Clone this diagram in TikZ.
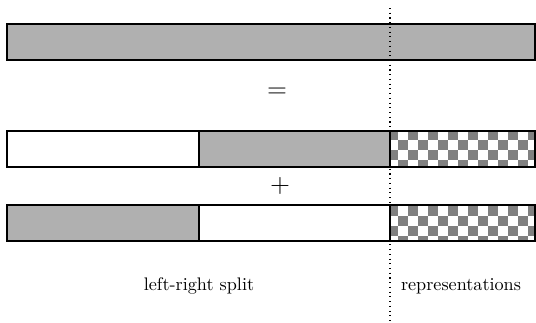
\documentclass[tikz,border=0pt]{standalone}
\begin{document}
\begin{tikzpicture}[x=0.55pt,y=-0.55pt,
	bar/.style={draw=black,line width=0.6pt},
	full/.style={bar,fill=black!31},
	empty/.style={bar,fill=white},
	checker/.style={fill=black!50},
	sign/.style={font=\Large}]
		\useasboundingbox (0,0) rectangle (536,322);
		% whole sequence
		\draw[full] (7,24) rectangle (535,60);
		\node[sign] (eq) at (277,93) {$=$};
		% first half: right part filled
		\draw[empty] (7,131) rectangle (199,167);
		\draw[full] (199,131) rectangle (390,167);
		\begin{scope}
			\clip (390,131) rectangle (535,167);
			\foreach \i in {0,...,15} \foreach \j in {0,...,4} {\ifodd\numexpr\i+\j\relax\else \fill[checker] (387.7+10*\i,130+10*\j) rectangle ++(10,10);\fi}
		\end{scope}
		\draw[bar] (390,131) rectangle (535,167);
		\node[sign] (plus) at (280,186) {$+$};
		% second half: left part filled
		\draw[full] (7,205) rectangle (199,241);
		\draw[empty] (199,205) rectangle (390,241);
		\begin{scope}
			\clip (390,205) rectangle (535,241);
			\foreach \i in {0,...,15} \foreach \j in {0,...,4} {\ifodd\numexpr\i+\j\relax \fill[checker] (387.7+10*\i,196+10*\j) rectangle ++(10,10);\fi}
		\end{scope}
		\draw[bar] (390,205) rectangle (535,241);
		% separator and labels
		\coordinate (sepTop) at (390,8);
		\coordinate (sepBot) at (390,322);
		\draw[dotted,line width=0.6pt] (sepTop) -- (sepBot);
		\node (split) at (199,286) {left-right split};
		\node (repr) at (461,286) {representations};
	\end{tikzpicture}
\end{document}
